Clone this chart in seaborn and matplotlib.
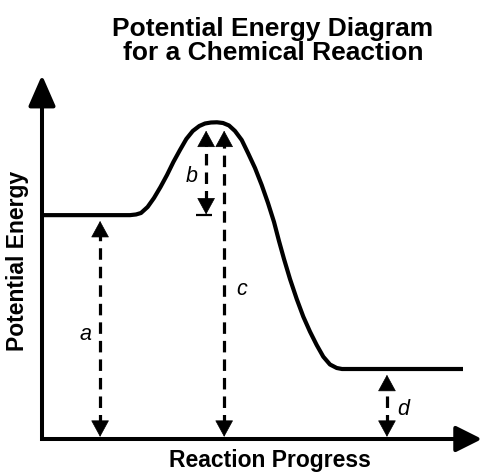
import matplotlib
matplotlib.use("Agg")
import matplotlib.pyplot as plt
import seaborn as sns
import pandas as pd

# Energy profile along the reaction coordinate (progress 0-100, energy 0-100)
progress = [0.0, 20.0, 21.36, 22.5, 24.0, 25.45, 26.93, 28.41, 29.86, 31.36,
            32.80, 34.27, 35.75, 37.05, 38.41, 39.77, 41.14, 42.5, 43.86,
            45.39, 46.82, 48.41, 49.93, 51.36, 52.73, 53.86, 55.0, 56.36,
            57.89, 59.39, 60.91, 62.43, 63.93, 65.45, 66.98, 68.18, 95.68]
energy = [61.5, 61.5, 61.68, 62.09, 63.74, 66.21, 69.23, 72.53, 76.10, 79.40,
          82.42, 84.62, 85.99, 86.68, 86.95, 87.01, 86.81, 86.13, 84.62,
          82.14, 78.57, 74.45, 69.78, 64.84, 59.62, 54.40, 49.45, 43.96,
          38.46, 33.60, 29.48, 25.82, 22.61, 20.47, 19.51, 19.23, 19.23]

reactant_level = 61.5
peak_level = 87.0
product_level = 19.23

# Dimension arrows: label, x position, lower level, upper level, label position
arrow_labels = ["a", "b", "c", "d"]
arrow_x = [13.2, 37.3, 41.4, 78.4]
arrow_low = [0.0, reactant_level, 0.0, 0.0]
arrow_high = [reactant_level, peak_level, peak_level, product_level]
label_x = [9.9, 34.0, 45.4, 82.2]
label_y = [28.6, 72.0, 41.0, 8.0]

title_text = "Potential Energy Diagram\nfor a Chemical Reaction"
xlabel_text = "Reaction Progress"
ylabel_text = "Potential Energy"

sns.set_theme(style="white")
plt.rcParams["font.family"] = ["Liberation Sans", "DejaVu Sans"]
plt.rcParams["text.color"] = "black"

W, H = 483, 476
fig = plt.figure(figsize=(W / 100, H / 100), dpi=100)
ax = fig.add_axes([42 / W, (H - 439) / H, (482 - 42) / W, (439 - 75) / H])
ax.set_xlim(0, 100)
ax.set_ylim(0, 100)
ax.axis("off")

df = pd.DataFrame({"progress": progress, "energy": energy})
sns.lineplot(data=df, x="progress", y="energy", ax=ax, color="black",
             linewidth=3.0, sort=False, estimator=None,
             solid_joinstyle="round", solid_capstyle="butt")

# Axis arrows meeting in a square corner
ax.annotate("", xy=(0, 1), xytext=(0, -0.0055), xycoords="axes fraction",
            textcoords="axes fraction", annotation_clip=False,
            arrowprops=dict(arrowstyle="-|>,head_length=19,head_width=8.3",
                            color="black", lw=2.9, shrinkA=0, shrinkB=0,
                            mutation_scale=1, capstyle="butt"))
ax.annotate("", xy=(1, 0), xytext=(-0.0045, 0), xycoords="axes fraction",
            textcoords="axes fraction", annotation_clip=False,
            arrowprops=dict(arrowstyle="-|>,head_length=16,head_width=8",
                            color="black", lw=2.9, shrinkA=0, shrinkB=0,
                            mutation_scale=1, capstyle="butt"))

head_style = "-|>,head_length=11,head_width=6"


def head(x, tip, base):
    ax.annotate("", xy=(x, tip), xytext=(x, base),
                arrowprops=dict(arrowstyle=head_style, color="black", lw=0.5,
                                shrinkA=0, shrinkB=0, mutation_scale=1))


for lab, x, lo, hi, lx, ly in zip(arrow_labels, arrow_x, arrow_low, arrow_high,
                                  label_x, label_y):
    gap_hi = 1.6 if hi != peak_level else 2.3
    gap_lo = 0.6
    top_tip = hi - gap_hi
    bot_tip = lo + gap_lo
    ax.plot([x, x], [bot_tip + 3, top_tip - 3], color="black", lw=2.3,
            linestyle=(0, (3.6, 2.2)), dash_capstyle="butt")
    head(x, top_tip, top_tip - 3.5)
    if lab == "b":
        ax.plot([x - 2.2, x + 1.4], [lo, lo], color="black", lw=1.6,
                solid_capstyle="butt")
        head(x, lo + 0.2, lo + 3.7)
    else:
        head(x, bot_tip, bot_tip + 3.5)
    ax.text(lx, ly, lab, fontsize=15.5, style="italic", ha="center",
            va="center", color="black")

fig.text(273 / W, 1 - 41 / H, title_text, ha="center", va="center",
         fontsize=19, fontweight="bold", linespacing=1.05, color="black")
fig.text(270 / W, 1 - 461 / H, xlabel_text, ha="center", va="center",
         fontsize=16.5, fontweight="bold", color="black")
fig.text(18 / W, 1 - 261 / H, ylabel_text, ha="center", va="center",
         fontsize=16.5, fontweight="bold", rotation=90, color="black")

fig.savefig("out.png", dpi=100)
